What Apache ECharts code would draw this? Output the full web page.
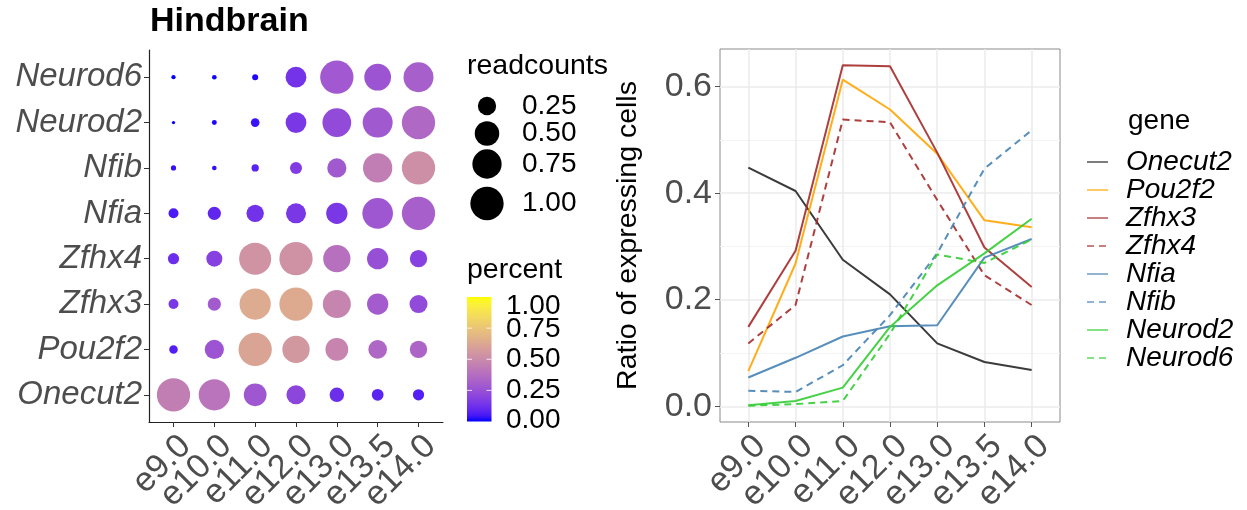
<!DOCTYPE html>
<html>
<head>
<meta charset="utf-8">
<script src="https://cdn.jsdelivr.net/npm/echarts@6/dist/echarts.min.js"></script>
<style>
  html, body { margin: 0; padding: 0; background: #fff; }
  #chart { width: 1247px; height: 510px; }
</style>
</head>
<body>
<div id="chart"></div>
<script>
// Developmental stages (x axis of both panels)
const stages = ['e9.0', 'e10.0', 'e11.0', 'e12.0', 'e13.0', 'e13.5', 'e14.0'];
// Genes, bottom to top on the dot plot, and in legend order
const genes = ['Onecut2', 'Pou2f2', 'Zfhx3', 'Zfhx4', 'Nfia', 'Nfib', 'Neurod2', 'Neurod6'];

// Ratio of expressing cells per stage (also the "percent" colour of the dots)
const ratioOnecut2 = [0.448, 0.404, 0.275, 0.210, 0.118, 0.083, 0.068];
const ratioPou2f2  = [0.066, 0.268, 0.613, 0.557, 0.474, 0.349, 0.336];
const ratioZfhx3   = [0.149, 0.292, 0.640, 0.638, 0.476, 0.298, 0.224];
const ratioZfhx4   = [0.118, 0.190, 0.538, 0.533, 0.387, 0.246, 0.190];
const ratioNfia    = [0.054, 0.091, 0.131, 0.150, 0.152, 0.279, 0.314];
const ratioNfib    = [0.029, 0.027, 0.077, 0.171, 0.287, 0.446, 0.518];
const ratioNeurod2 = [0.002, 0.010, 0.035, 0.149, 0.227, 0.287, 0.352];
const ratioNeurod6 = [0.001, 0.004, 0.010, 0.136, 0.285, 0.269, 0.313];

// Normalised read counts per stage (dot size)
const readsOnecut2 = [1.00, 0.87, 0.42, 0.28, 0.14, 0.08, 0.07];
const readsPou2f2  = [0.03, 0.28, 1.00, 0.64, 0.42, 0.26, 0.22];
const readsZfhx3   = [0.05, 0.11, 0.87, 1.00, 0.68, 0.36, 0.24];
const readsZfhx4   = [0.07, 0.18, 0.92, 1.00, 0.64, 0.36, 0.22];
const readsNfia    = [0.05, 0.11, 0.22, 0.31, 0.36, 0.83, 1.00];
const readsNfib    = [0.004, 0.002, 0.018, 0.084, 0.28, 0.75, 1.00];
const readsNeurod2 = [0.000, 0.003, 0.032, 0.34, 0.72, 0.79, 1.00];
const readsNeurod6 = [0.001, 0.002, 0.008, 0.34, 1.00, 0.61, 0.79];

// Legend break values and axis ticks
const sizeBreaks = [0.25, 0.50, 0.75, 1.00];
const percentBreaks = [0.00, 0.25, 0.50, 0.75, 1.00];
const ratioTicks = [0, 0.2, 0.4, 0.6];
const ratioMinorTicks = [0.1, 0.3, 0.5];

const ratios = [ratioOnecut2, ratioPou2f2, ratioZfhx3, ratioZfhx4, ratioNfia, ratioNfib, ratioNeurod2, ratioNeurod6];
const reads  = [readsOnecut2, readsPou2f2, readsZfhx3, readsZfhx4, readsNfia, readsNfib, readsNeurod2, readsNeurod6];

const lineColors = {
  Onecut2: '#262626', Pou2f2: '#ffa500', Zfhx3: '#a52a2a', Zfhx4: '#a52a2a',
  Nfia: '#4682b4', Nfib: '#4682b4', Neurod2: '#32cd32', Neurod6: '#32cd32'
};
const dashedGenes = ['Zfhx4', 'Nfib', 'Neurod6'];

const FONT = "'Liberation Sans', Arial, Helvetica, sans-serif";

// ---- colour scale: blue -> yellow interpolated in CIE Lab ----
function toLin(c) { c /= 255; return c <= 0.04045 ? c / 12.92 : Math.pow((c + 0.055) / 1.055, 2.4); }
function fromLin(c) {
  const v = c <= 0.0031308 ? 12.92 * c : 1.055 * Math.pow(c, 1 / 2.4) - 0.055;
  return Math.round(Math.max(0, Math.min(1, v)) * 255);
}
function rgbToLab(rgb) {
  const r = toLin(rgb[0]), g = toLin(rgb[1]), b = toLin(rgb[2]);
  const X = (0.4124 * r + 0.3576 * g + 0.1805 * b) / 0.95047;
  const Y = (0.2126 * r + 0.7152 * g + 0.0722 * b);
  const Z = (0.0193 * r + 0.1192 * g + 0.9505 * b) / 1.08883;
  const f = t => t > 0.008856 ? Math.cbrt(t) : 7.787 * t + 16 / 116;
  const fx = f(X), fy = f(Y), fz = f(Z);
  return [116 * fy - 16, 500 * (fx - fy), 200 * (fy - fz)];
}
function labToHex(lab) {
  const fy = (lab[0] + 16) / 116, fx = fy + lab[1] / 500, fz = fy - lab[2] / 200;
  const fi = t => (t * t * t > 0.008856 ? t * t * t : (t - 16 / 116) / 7.787);
  const X = 0.95047 * fi(fx), Y = fi(fy), Z = 1.08883 * fi(fz);
  const r = fromLin(3.2406 * X - 1.5372 * Y - 0.4986 * Z);
  const g = fromLin(-0.9689 * X + 1.8758 * Y + 0.0415 * Z);
  const b = fromLin(0.0557 * X - 0.2040 * Y + 1.0570 * Z);
  return '#' + [r, g, b].map(v => v.toString(16).padStart(2, '0')).join('');
}
const labLow = rgbToLab([0, 0, 255]);
const labHigh = rgbToLab([255, 255, 0]);
function percentColor(t) {
  t = Math.max(0, Math.min(1, t));
  return labToHex([0, 1, 2].map(i => labLow[i] + (labHigh[i] - labLow[i]) * t));
}
// dot diameter from read counts (area-style scaling)
function dotSize(v) { return 3.3 + 30 * Math.sqrt(Math.max(0, v)); }

// ---- dot plot data ----
const dotData = [];
genes.forEach((g, gi) => {
  stages.forEach((s, si) => {
    dotData.push([si, gi, reads[gi][si], ratios[gi][si]]);
  });
});

// ---- panel geometry (discrete axes padded by 0.6 of a step on each side) ----
const dotPanel = { left: 149, top: 50, width: 294, height: 372 };
const linePanel = { left: 720, top: 49, width: 340, height: 373 };
const PAD = 0.6;
function labelStrip(p) {
  const step = p.width / (stages.length - 1 + 2 * PAD);
  return { left: p.left + PAD * step, top: p.top, width: step * (stages.length - 1), height: p.height };
}

// ---- legend graphics (size and colour keys) ----
const graphics = [];
graphics.push({ type: 'text', x: 150, y: 22,
  style: { text: 'Hindbrain', font: 'bold 34px ' + FONT, fill: '#000', align: 'left', verticalAlign: 'middle' } });

graphics.push({ type: 'text', x: 467, y: 66,
  style: { text: 'readcounts', font: '28.5px ' + FONT, fill: '#000', align: 'left', verticalAlign: 'middle' } });
const sizeKeyY = [106, 133.5, 164, 203.5];
sizeBreaks.forEach((v, i) => {
  graphics.push({ type: 'circle', shape: { cx: 487, cy: sizeKeyY[i], r: dotSize(v) / 2 }, style: { fill: '#000' } });
  graphics.push({ type: 'text', x: 522, y: sizeKeyY[i],
    style: { text: v.toFixed(2), font: '28px ' + FONT, fill: '#000', align: 'left', verticalAlign: 'middle' } });
});

graphics.push({ type: 'text', x: 467, y: 270,
  style: { text: 'percent', font: '28.5px ' + FONT, fill: '#000', align: 'left', verticalAlign: 'middle' } });
const barTop = 297, barBottom = 421.5, barX = 467, barW = 24.5;
const stops = [];
for (let i = 0; i <= 20; i++) stops.push({ offset: i / 20, color: percentColor(i / 20) });
graphics.push({ type: 'rect', shape: { x: barX, y: barTop, width: barW, height: barBottom - barTop },
  style: { fill: new echarts.graphic.LinearGradient(0, 1, 0, 0, stops) } });
const labelY = { '0': 420.5, '0.25': 390, '0.5': 359.5, '0.75': 329, '1': 306 };
percentBreaks.forEach(v => {
  const yTick = barBottom - v * (barBottom - barTop);
  if (v > 0 && v < 1) {
    graphics.push({ type: 'line', shape: { x1: barX, y1: yTick, x2: barX + 5, y2: yTick }, style: { stroke: '#fff', lineWidth: 1, opacity: 0.8 } });
    graphics.push({ type: 'line', shape: { x1: barX + barW - 5, y1: yTick, x2: barX + barW, y2: yTick }, style: { stroke: '#fff', lineWidth: 1, opacity: 0.8 } });
  }
  graphics.push({ type: 'text', x: 506, y: labelY[String(v)],
    style: { text: v.toFixed(2), font: '28px ' + FONT, fill: '#000', align: 'left', verticalAlign: 'middle' } });
});

graphics.push({ type: 'text', x: 1128, y: 121,
  style: { text: 'gene', font: '28px ' + FONT, fill: '#000', align: 'left', verticalAlign: 'middle' } });

// ---- line series ----
const lineSeries = genes.map((g, gi) => ({
  name: g,
  type: 'line',
  xAxisIndex: 1,
  yAxisIndex: 1,
  data: ratios[gi].map((v, si) => [si, v]),
  symbol: 'none',
  smooth: false,
  lineStyle: { color: lineColors[g], width: 2, type: dashedGenes.includes(g) ? [7, 5] : 'solid', opacity: 0.9 },
  itemStyle: { color: lineColors[g] },
  z: 3
}));

// rotated stage labels live on category axes spanning first..last tick
const stageLabelAxis = gridIndex => ({
  gridIndex, type: 'category', data: stages, boundaryGap: false,
  axisLine: { show: false }, axisTick: { show: false }, splitLine: { show: false },
  axisLabel: {
    interval: 0, rotate: 45, fontSize: 34, color: '#4d4d4d', fontFamily: FONT,
    margin: 7, align: 'right', verticalAlign: 'top'
  }
});
const hiddenY = gridIndex => ({ gridIndex, type: 'value', show: false, min: 0, max: 1 });

const stageTicks = [0, 1, 2, 3, 4, 5, 6];
const geneTicks = [0, 1, 2, 3, 4, 5, 6, 7];

const option = {
  animation: false,
  backgroundColor: '#fff',
  graphic: graphics,
  legend: {
    orient: 'vertical', left: 1086, top: 148, padding: 0,
    itemWidth: 21, itemHeight: 14, itemGap: 0,
    data: genes,
    itemStyle: { opacity: 0, color: 'transparent', borderWidth: 0 },
    lineStyle: { opacity: 0.6 },
    textStyle: { fontSize: 28, fontStyle: 'italic', color: '#000', fontFamily: FONT, lineHeight: 27, padding: [0, 0, 0, 13] },
    selectedMode: false
  },
  grid: [
    Object.assign({ outerBoundsMode: 'none', containLabel: false }, dotPanel),
    Object.assign({ outerBoundsMode: 'none', containLabel: false, show: true, borderColor: '#8a8a8a', borderWidth: 1, backgroundColor: '#fff' }, linePanel),
    Object.assign({ outerBoundsMode: 'none', containLabel: false }, labelStrip(dotPanel)),
    Object.assign({ outerBoundsMode: 'none', containLabel: false }, labelStrip(linePanel))
  ],
  xAxis: [
    {
      gridIndex: 0, type: 'value', min: -PAD, max: stages.length - 1 + PAD,
      axisLine: { show: true, onZero: false, lineStyle: { color: '#222', width: 1.2 } },
      axisTick: { show: true, customValues: stageTicks, length: 5, lineStyle: { color: '#333' } },
      axisLabel: { show: false, customValues: stageTicks },
      splitLine: { show: false }
    },
    {
      gridIndex: 1, type: 'value', min: -PAD, max: stages.length - 1 + PAD,
      axisLine: { show: false, onZero: false },
      axisTick: { show: true, customValues: stageTicks, length: 5, lineStyle: { color: '#555' } },
      axisLabel: { show: false, customValues: stageTicks },
      splitLine: { show: true, lineStyle: { color: '#ebebeb', width: 1.5 } }
    },
    stageLabelAxis(2),
    stageLabelAxis(3)
  ],
  yAxis: [
    {
      gridIndex: 0, type: 'value', min: -PAD, max: genes.length - 1 + PAD,
      axisLine: { show: true, onZero: false, lineStyle: { color: '#222', width: 1.2 } },
      axisTick: { show: true, customValues: geneTicks, length: 5, lineStyle: { color: '#333' } },
      axisLabel: {
        customValues: geneTicks, fontSize: 33, fontStyle: 'italic', color: '#4d4d4d',
        fontFamily: FONT, margin: 7, showMinLabel: true, showMaxLabel: true,
        formatter: v => genes[Math.round(v)] || ''
      },
      splitLine: { show: false }
    },
    {
      gridIndex: 1, type: 'value', min: -0.0295, max: 0.6705,
      name: 'Ratio of expressing cells', nameLocation: 'middle', nameRotate: 90, nameGap: 77,
      nameTextStyle: { fontSize: 28.5, color: '#000', fontFamily: FONT },
      axisLine: { show: false, onZero: false },
      axisTick: { show: true, customValues: ratioTicks, length: 5, lineStyle: { color: '#555' } },
      axisLabel: { customValues: ratioTicks, fontSize: 34, color: '#4d4d4d', fontFamily: FONT, margin: 8,
        showMinLabel: true, showMaxLabel: true, formatter: v => v.toFixed(1) },
      splitLine: { show: true, lineStyle: { color: '#ebebeb', width: 1.5 } }
    },
    {
      gridIndex: 1, type: 'value', min: -0.0295, max: 0.6705,
      axisLine: { show: false, onZero: false },
      axisTick: { show: false, customValues: ratioMinorTicks },
      axisLabel: { show: false, customValues: ratioMinorTicks },
      splitLine: { show: true, lineStyle: { color: '#f4f4f4', width: 1 } }
    },
    hiddenY(2),
    hiddenY(3)
  ],
  series: [
    {
      type: 'scatter',
      xAxisIndex: 0, yAxisIndex: 0,
      data: dotData,
      symbol: 'circle',
      symbolSize: v => dotSize(v[2]),
      itemStyle: { color: p => percentColor(p.value[3]), opacity: 1 },
      silent: true
    }
  ].concat(lineSeries)
};

const chart = echarts.init(document.getElementById('chart'), null, { renderer: 'canvas' });
chart.setOption(option);
</script>
</body>
</html>
